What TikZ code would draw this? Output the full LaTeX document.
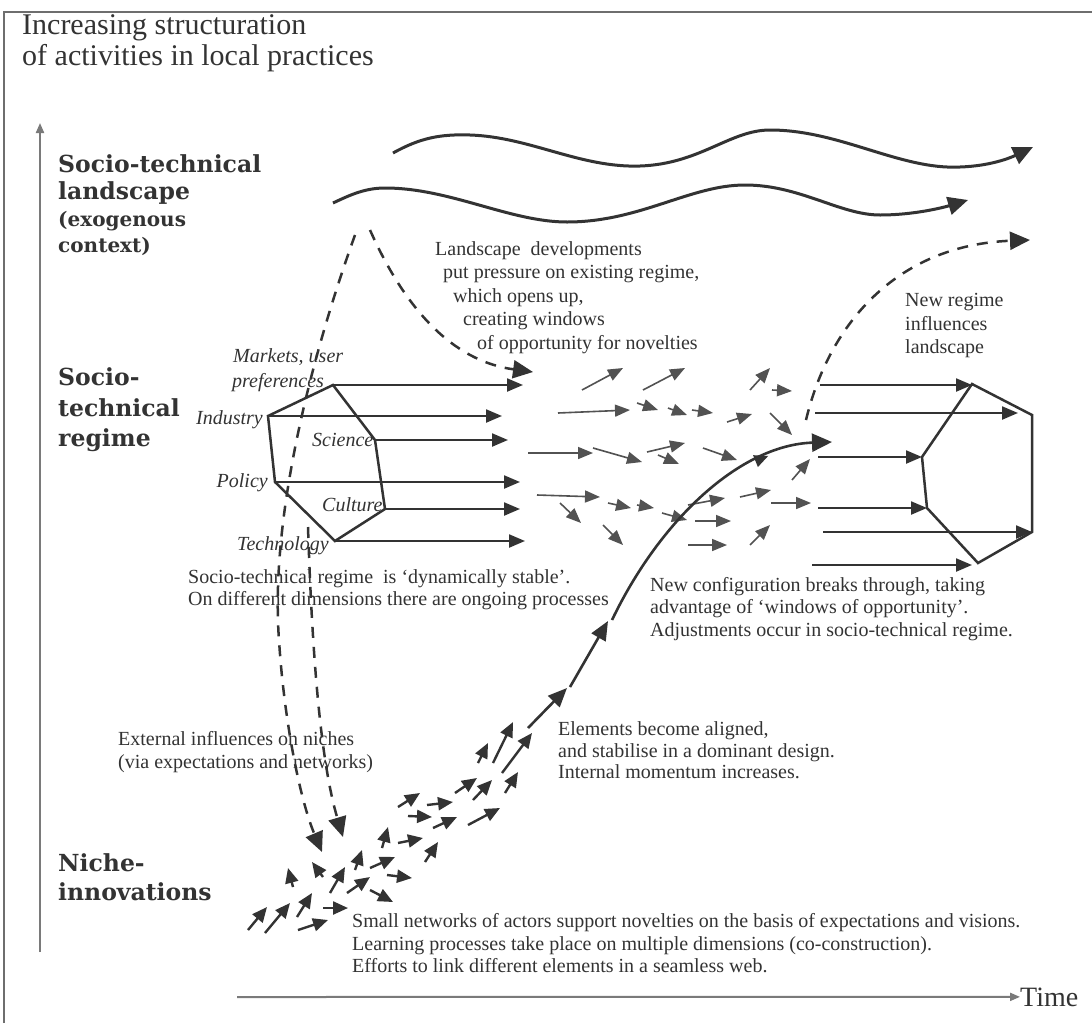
\documentclass[tikz,border=0pt]{standalone}
\usepackage{fontspec}
\setmainfont{Liberation Serif}
\newfontfamily\lvlfont{DejaVu Serif}
\usetikzlibrary{arrows.meta,decorations.markings}
\definecolor{ink}{HTML}{333333}
\definecolor{axisgray}{HTML}{7A7A7A}
\definecolor{framegray}{HTML}{6E6E6E}
\newcommand\fsz[2]{\fontsize{#1}{#2}\selectfont}

\begin{document}
\begin{tikzpicture}[x=1pt,y=-1pt,
  txt/.style={inner sep=0pt, anchor=base west, text=ink, font=\fsz{20}{23}},
  itl/.style={inner sep=0pt, anchor=base west, text=ink, font=\fsz{20}{23}\itshape},
  lvl/.style={inner sep=0pt, anchor=base west, text=ink, font=\lvlfont\bfseries\fsz{23.5}{27}},
  lvlsmall/.style={inner sep=0pt, anchor=base west, text=ink, font=\lvlfont\bfseries\fsz{20}{27}},
  ttl/.style={inner sep=0pt, anchor=base west, text=ink, font=\fsz{30}{31}},
  wave/.style={draw=ink, line width=3pt, -{Triangle[length=20pt,width=18pt]}},
  dashline/.style={draw=ink, line width=2.5pt, dash pattern=on 11pt off 9pt, -{Triangle[length=20pt,width=18pt]}},
  hexa/.style={draw=ink, line width=2.5pt, line join=miter},
  flow/.style={draw=ink, line width=2.2pt, -{Triangle[length=16pt,width=13pt]}},
  small/.style={draw=ink!85, line width=1.6pt, -{Triangle[length=15pt,width=12pt]}},
  nich/.style={draw=ink, line width=2.4pt, -{Triangle[length=15pt,width=13pt]}},
  trunk/.style={draw=ink, line width=2.6pt, -{Triangle[length=19pt,width=16pt]}},
  axis/.style={draw=axisgray, line width=2pt, -{Triangle[length=10pt,width=8pt]}},
]
\useasboundingbox (0,0) rectangle (1092,1023);
\fill[white] (0,0) rectangle (1092,1023);

% frame
\draw[framegray, line width=1.5pt] (4,1023) -- (4,12) -- (1092,12);

% title
\node[ttl] (title1) at (22,34) {Increasing structuration};
\node[ttl] (title2) at (22,65) {of activities in local practices};

% axes
\coordinate (yb) at (40,952);
\coordinate (yt) at (40,123);
\draw[axis] (yb) -- (yt);
\coordinate (tb) at (237,997);
\node[inner sep=0pt, anchor=base west, text=ink, font=\fsz{28}{30}] (time) at (1020,1006) {Time};
\draw[axis] (tb) -- (time.west);

% level labels
\node[lvl] (land1) at (58,172) {Socio-technical};
\node[lvl] (land2) at (58,199) {landscape};
\node[lvlsmall] (land3) at (58,226) {(exogenous};
\node[lvlsmall] (land4) at (58,252) {context)};
\node[lvl] (reg1) at (58,385) {Socio-};
\node[lvl] (reg2) at (58,416) {technical};
\node[lvl] (reg3) at (58,446) {regime};
\node[lvl] (nic1) at (58,871) {Niche-};
\node[lvl] (nic2) at (58,900) {innovations};

% landscape waves
\draw[wave] (393,153) .. controls (420,138) and (440,134) .. (470,135)
  .. controls (530,137) and (580,168) .. (640,166)
  .. controls (700,164) and (730,130) .. (770,130)
  .. controls (840,130) and (900,170) .. (960,167)
  .. controls (990,166) and (1010,158) .. (1033,147);
\draw[wave] (333,203) .. controls (350,195) and (365,188) .. (385,188)
  .. controls (450,188) and (510,222) .. (567,222)
  .. controls (640,222) and (690,185) .. (745,185)
  .. controls (800,185) and (840,215) .. (880,215)
  .. controls (915,215) and (945,207) .. (968,200);

% landscape text
\node[txt] (lt1) at (435,255) {Landscape\ \ developments};
\node[txt] (lt2) at (443,278) {put pressure on existing regime,};
\node[txt] (lt3) at (453,302) {which opens up,};
\node[txt] (lt4) at (463,325) {creating windows};
\node[txt] (lt5) at (477,349) {of opportunity for novelties};

\node[txt] (nr1) at (905,306) {New regime};
\node[txt] (nr2) at (905,330) {influences};
\node[txt] (nr3) at (905,353) {landscape};

% left regime hexagon
\coordinate (L1) at (333,385);
\coordinate (L2) at (375,440);
\coordinate (L3) at (385,509);
\coordinate (L4) at (335,541);
\coordinate (L5) at (275,482);
\coordinate (L6) at (268,416);
\draw[hexa] (L1) -- (L2) -- (L3) -- (L4) -- (L5) -- (L6) -- cycle;
\coordinate (LE1) at (523,385);
\coordinate (LE2) at (508,440);
\coordinate (LE3) at (520,509);
\coordinate (LE4) at (525,541);
\coordinate (LE5) at (520,482);
\coordinate (LE6) at (502,416);
\foreach \i in {1,...,6} \draw[flow] (L\i) -- (LE\i);

\node[itl] (mk1) at (233,362) {Markets, user};
\node[itl] (mk2) at (232,387) {preferences};
\node[itl, anchor=base east] (ind) at (263,424) {Industry};
\node[itl] (sci) at (312,446) {Science};
\node[itl, anchor=base east] (pol) at (268,487) {Policy};
\node[itl] (cul) at (322,511) {Culture};
\node[itl] (tec) at (237,550) {Technology};

% right regime hexagon
\coordinate (R1) at (972,384);
\coordinate (R2) at (1032,415);
\coordinate (R3) at (1032,532);
\coordinate (R4) at (978,563);
\coordinate (R5) at (927,508);
\coordinate (R6) at (922,457);
\draw[hexa] (R1) -- (R2) -- (R3) -- (R4) -- (R5) -- (R6) -- cycle;
\coordinate (RS1) at (820,385);  \coordinate (RT1) at (972,385);
\coordinate (RS2) at (815,413);  \coordinate (RT2) at (1018,413);
\coordinate (RS3) at (818,457);  \coordinate (RT3) at (922,457);
\coordinate (RS4) at (818,508);  \coordinate (RT4) at (927,508);
\coordinate (RS5) at (823,532);  \coordinate (RT5) at (1032,532);
\coordinate (RS6) at (812,565);  \coordinate (RT6) at (972,565);
\foreach \i in {1,...,6} \draw[flow] (RS\i) -- (RT\i);

% scattered regime arrows between the two configurations
\foreach \a/\b/\c/\d in {
  582/390/623/368, 643/390/685/368, 750/390/770/368, 772/390/792/391,
  558/413/630/410, 637/403/658/410, 668/408/687/415, 692/410/713/413,
  727/422/752/414, 770/413/792/435,
  528/453/593/453, 593/448/642/462, 647/452/685/443, 658/455/679/464,
  703/448/737/460,
  537/495/600/497, 560/503/581/523, 608/503/631/508, 637/505/654/508,
  662/513/687/520, 603/525/623/545, 688/505/725/498, 695/521/731/521,
  688/545/727/545, 740/497/771/490, 771/503/811/503, 750/545/770/525,
  792/480/810/459}
  \draw[small] (\a,\b) -- (\c,\d);

% niche arrows
\foreach \a/\b/\c/\d in {
  248/930/267/907, 265/933/290/903, 298/930/328/920, 297/917/312/893,
  323/908/348/908, 293/887/288/868, 323/877/312/862, 330/893/345/867,
  347/893/370/877, 355/870/362/850, 370/868/395/857, 370/890/393/902,
  387/875/412/878, 382/848/388/827, 398/843/423/838, 425/862/438/842,
  398/807/420/793, 408/816/432/817, 433/828/457/817, 427/805/453/802,
  455/793/477/778, 468/825/500/808, 473/800/492/780, 478/763/488/743,
  493/763/513/722, 502/773/532/733, 505/793/518/772}
  \draw[nich] (\a,\b) -- (\c,\d);

% breakthrough trajectory
\coordinate (m0) at (528,728);
\coordinate (m1) at (567,688);
\coordinate (m2) at (570,687);
\coordinate (m3) at (608,621);
\coordinate (m4) at (612,620);
\coordinate (m5) at (832,442);
\draw[trunk] (m0) -- (m1);
\draw[trunk] (m2) -- (m3);
\draw[draw=ink, line width=2.6pt, -{Triangle[length=20pt,width=18pt]},
  postaction={decorate},
  decoration={markings, mark=at position 0.78 with {\arrow{Triangle[length=14pt,width=12pt]}}}]
  (m4) .. controls (660,520) and (740,445) .. (m5);

% dashed influences
\coordinate (d1s) at (370,230);
\coordinate (d1e) at (533,372);
\draw[dashline] (d1s) .. controls (410,320) and (460,362) .. (d1e);
\coordinate (d2s) at (355,235);
\coordinate (d2e) at (322,852);
\draw[dashline] (d2s) .. controls (310,360) and (270,520) .. (279,640)
  .. controls (284,720) and (300,800) .. (d2e);
\coordinate (d3s) at (308,527);
\coordinate (d3e) at (343,837);
\draw[dashline] (d3s) .. controls (312,650) and (320,760) .. (d3e);
\coordinate (d4s) at (806,420);
\coordinate (d4e) at (1030,240);
\draw[dashline] (d4s) .. controls (830,320) and (900,245) .. (d4e);

% explanatory texts
\node[txt] (st1) at (188,583) {Socio-technical regime\ \ is `dynamically stable'.};
\node[txt] (st2) at (188,605) {On different dimensions there are ongoing processes};

\node[txt] (nc1) at (650,591) {New configuration breaks through, taking};
\node[txt] (nc2) at (650,613) {advantage of `windows of opportunity'.};
\node[txt] (nc3) at (650,636) {Adjustments occur in socio-technical regime.};

\node[txt] (el1) at (558,735) {Elements become aligned,};
\node[txt] (el2) at (558,757) {and stabilise in a dominant design.};
\node[txt] (el3) at (558,778) {Internal momentum increases.};

\node[txt] (ex1) at (118,745) {External influences on niches};
\node[txt] (ex2) at (118,768) {(via expectations and networks)};

\node[txt] (sn1) at (352,927) {Small networks of actors support novelties on the basis of expectations and visions.};
\node[txt] (sn2) at (352,950) {Learning processes take place on multiple dimensions (co-construction).};
\node[txt] (sn3) at (352,972) {Efforts to link different elements in a seamless web.};
\end{tikzpicture}
\end{document}
